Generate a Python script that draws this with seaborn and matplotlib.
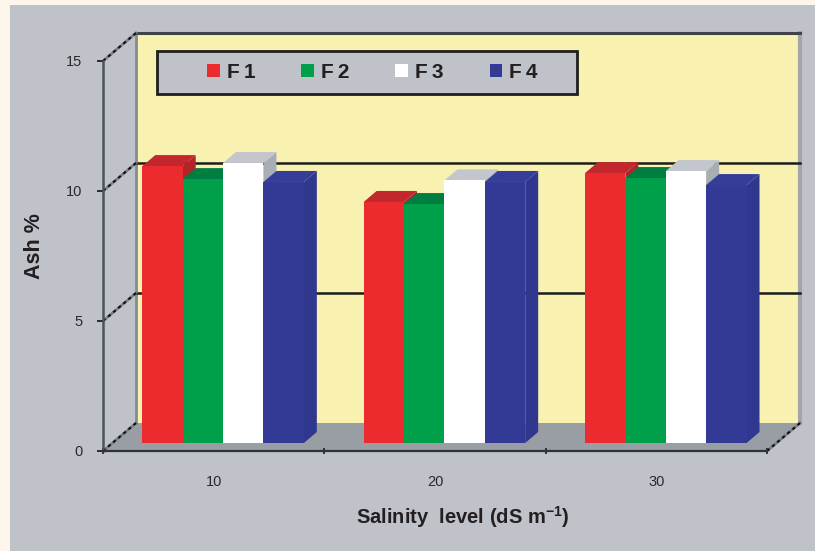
import numpy as np
import pandas as pd
import seaborn as sns
import matplotlib
matplotlib.use("Agg")
import matplotlib.pyplot as plt
from matplotlib.patches import Polygon, Rectangle, Patch
from matplotlib.lines import Line2D
from matplotlib.transforms import ScaledTranslation

# ---- data -------------------------------------------------------------
salinity_levels = ["10", "20", "30"]
feed_names = ["F\u20091", "F\u20092", "F\u20093", "F\u20094"]
ash_f1 = [10.65, 9.27, 10.38]
ash_f2 = [10.15, 9.19, 10.19]
ash_f3 = [10.77, 10.10, 10.46]
ash_f4 = [10.04, 10.04, 9.92]
y_tick_values = [0, 5, 10, 15]

# ---- styling ----------------------------------------------------------
front_colors = ["#EC2B2E", "#00A04B", "#FFFFFF", "#333A96"]
top_colors = ["#C1272D", "#007D40", "#C3C6CC", "#353D99"]
side_colors = ["#B3242A", "#00773C", "#A9AEB5", "#30378F"]
PAGE = "#FDF6EC"
PANEL = "#BFC2C9"
WALL = "#F8F1B0"
FLOOR = "#999EA5"
INK = "#231F20"

plt.rcParams["font.family"] = ["Liberation Sans", "DejaVu Sans"]
plt.rcParams["mathtext.fontset"] = "custom"
plt.rcParams["mathtext.rm"] = "Liberation Sans"
plt.rcParams["mathtext.bf"] = "Liberation Sans:bold"

W, H, DPI = 815, 551, 100
fig = plt.figure(figsize=(W / DPI, H / DPI), dpi=DPI, facecolor=PAGE)
fig.add_artist(Rectangle((10 / W, 0), 1 - 10 / W, 1 - 5 / H, transform=fig.transFigure,
                         facecolor=PANEL, edgecolor="none", zorder=-10))

# front plane of the pseudo-3D box, in pixels
AX_L, AX_B, AX_W, AX_H = 103, 100, 664, 390
ax = fig.add_axes([AX_L / W, AX_B / H, AX_W / W, AX_H / H])
ax.patch.set_visible(False)

df = pd.DataFrame({
    "level": salinity_levels * len(feed_names),
    "feed": np.repeat(feed_names, len(salinity_levels)),
    "ash": ash_f1 + ash_f2 + ash_f3 + ash_f4,
})

sns.barplot(data=df, x="level", y="ash", hue="feed", order=salinity_levels,
            hue_order=feed_names, palette=front_colors, saturation=1,
            width=0.73, errorbar=None, legend=False, linewidth=0, ax=ax)
ax.set_xlim(-0.5, 2.5)
ax.set_ylim(0, 15)
ax.set_xlabel("")
ax.set_ylabel("")

# depth direction of the box (pixels right / up for full depth)
DEPTH_PX = (33.0, 28.0)
BAR_F0, BAR_F1 = 8 / 28, 19 / 28
sx = 3.0 / AX_W
sy = 15.0 / AX_H


def proj(x, y, f):
    return (x + f * DEPTH_PX[0] * sx, y + f * DEPTH_PX[1] * sy)


x_lo, x_hi = ax.get_xlim()
y_lo, y_hi = ax.get_ylim()

# back wall and floor
ax.add_patch(Polygon([proj(x_lo, y_lo, 1), proj(x_hi, y_lo, 1), proj(x_hi, y_hi, 1), proj(x_lo, y_hi, 1)],
                     closed=True, facecolor=WALL, edgecolor="none", zorder=0.2, clip_on=False))
ax.add_patch(Polygon([proj(x_lo, y_lo, 0), proj(x_hi, y_lo, 0), proj(x_hi, y_lo, 1), proj(x_lo, y_lo, 1)],
                     closed=True, facecolor=FLOOR, edgecolor="none", zorder=0.3, clip_on=False))


def seg(p, q, **kw):
    ax.add_line(Line2D([p[0], q[0]], [p[1], q[1]], clip_on=False, **kw))


seg(proj(x_lo, y_lo, 1), proj(x_lo, y_hi, 1), color="#858A90", lw=2, zorder=0.4)
seg(proj(x_hi, y_lo, 1), proj(x_hi, y_hi, 1), color="#A2A6AA", lw=3, zorder=0.4)
seg(proj(x_lo, y_hi, 1), proj(x_hi, y_hi, 1), color="#3E4449", lw=2.2, zorder=0.5)
for v in y_tick_values[1:-1]:
    seg(proj(x_lo, v, 1), proj(x_hi, v, 1), color="#1C1C1C", lw=1.8, zorder=0.5)

# receding edges on the left wall and the right end of the floor
for v in y_tick_values:
    seg(proj(x_lo, v, 0), proj(x_lo, v, 1), color="#7C8187", lw=2, zorder=0.6)
    seg(proj(x_lo, v, 0), proj(x_lo, v, 1), color="#111111", lw=1.5, dashes=(1.6, 1.6), zorder=0.7)
seg(proj(x_hi, y_lo, 0), proj(x_hi, y_lo, 1), color="#7C8187", lw=2, zorder=0.6)
seg(proj(x_hi, y_lo, 0), proj(x_hi, y_lo, 1), color="#111111", lw=1.5, dashes=(1.6, 1.6), zorder=0.7)

# turn the flat bars into blocks: side face, top face, then the shifted front face
bars = []
for ci, cont in enumerate(ax.containers):
    for p in cont.patches:
        bars.append((p.get_x(), ci, p))
bars.sort(key=lambda t: t[0])

front_shift = ScaledTranslation(BAR_F0 * DEPTH_PX[0] / DPI, BAR_F0 * DEPTH_PX[1] / DPI,
                                fig.dpi_scale_trans)
for k, (x0, ci, p) in enumerate(bars):
    x1 = x0 + p.get_width()
    y0 = p.get_y()
    y1 = y0 + p.get_height()
    z = 3 + k * 0.1
    ax.add_patch(Polygon([proj(x1, y0, BAR_F0), proj(x1, y1, BAR_F0), proj(x1, y1, BAR_F1), proj(x1, y0, BAR_F1)],
                         closed=True, facecolor=side_colors[ci], edgecolor="none", zorder=z, clip_on=False))
    ax.add_patch(Polygon([proj(x0, y1, BAR_F0), proj(x1, y1, BAR_F0), proj(x1, y1, BAR_F1), proj(x0, y1, BAR_F1)],
                         closed=True, facecolor=top_colors[ci], edgecolor="none", zorder=z + 0.01, clip_on=False))
    p.set_transform(ax.transData + front_shift)
    p.set_zorder(z + 0.02)
    p.set_clip_on(False)

# axes, ticks
for side in ("top", "right"):
    ax.spines[side].set_visible(False)
ax.spines["left"].set_color("#4D5358")
ax.spines["left"].set_linewidth(1.8)
ax.spines["bottom"].set_color("#2F3336")
ax.spines["bottom"].set_linewidth(1.6)

ax.set_yticks(y_tick_values)
ax.set_yticklabels([str(v) for v in y_tick_values])
ax.tick_params(axis="y", length=4, width=1.4, color="#2B2B2B", pad=11, labelsize=10.5,
               labelcolor="#2A2A2A")
ax.set_xticks(range(len(salinity_levels)))
ax.set_xticklabels(salinity_levels)
ax.set_xticks([x_lo + i for i in range(len(salinity_levels) + 1)], minor=True)
ax.tick_params(axis="x", which="major", length=0, pad=17.5, labelsize=10.5, labelcolor="#2A2A2A")
ax.tick_params(axis="x", which="minor", length=5, width=1.3, direction="inout", color="#2B2B2B")

# axis titles
fig.text(35 / W, 1 - 246 / H, "Ash %", rotation=90, ha="center", va="center",
         fontsize=15.5, fontweight="bold", color=INK)
fig.text(463 / W, 1 - 517 / H, r"Salinity  level (dS m$^{\mathbf{-1}}$)", ha="center", va="center",
         fontsize=14.5, fontweight="bold", color=INK)

# legend box
fig.add_artist(Rectangle((157 / W, 1 - 94 / H), 420 / W, 43 / H, transform=fig.transFigure,
                         facecolor=PANEL, edgecolor="#1E1E1E", linewidth=2, zorder=10))
handles = [Patch(facecolor=c, edgecolor="none") for c in front_colors]
leg = fig.legend(handles, feed_names, ncol=4, frameon=False, loc="center",
                 bbox_to_anchor=(372.5 / W, 1 - 72.5 / H), bbox_transform=fig.transFigure,
                 prop={"weight": "bold", "size": 15}, labelcolor=INK,
                 handlelength=0.6, handleheight=0.6, handletextpad=0.35, columnspacing=2.2)
leg.set_zorder(11)

fig.savefig("out.png", dpi=DPI, facecolor=PAGE)
